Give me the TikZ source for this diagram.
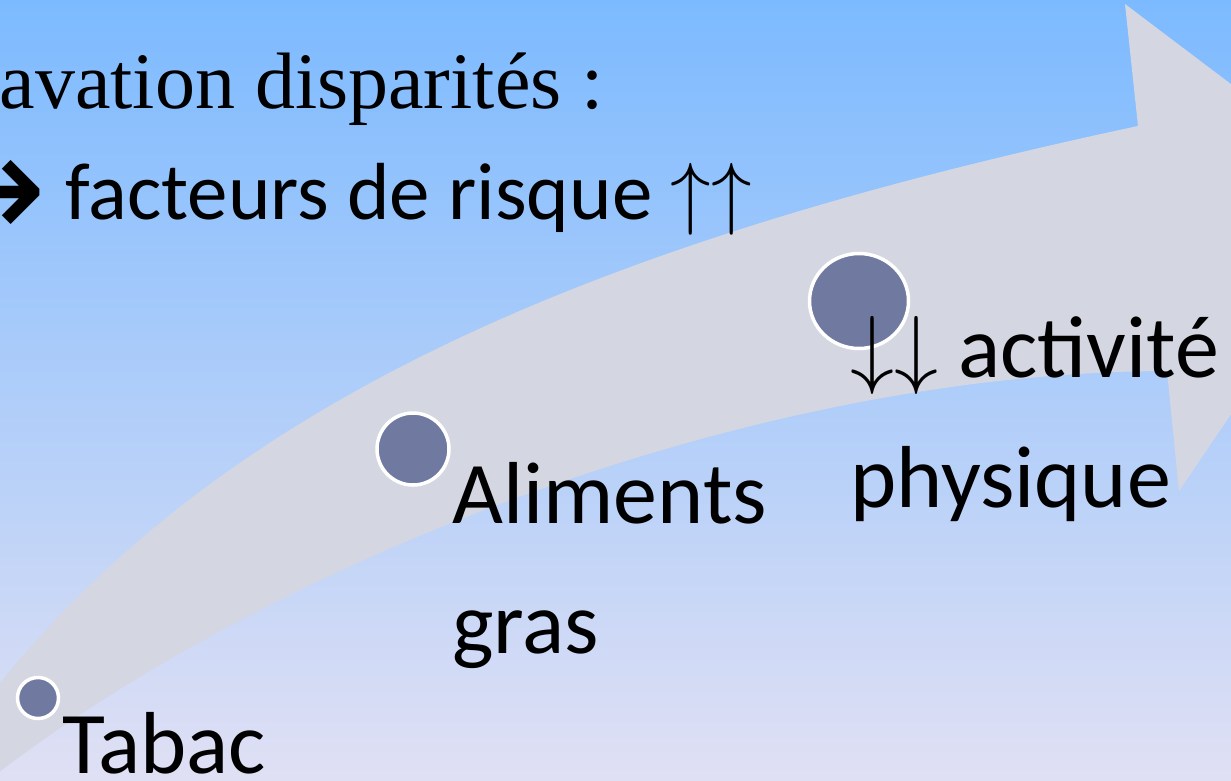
\documentclass[tikz,border=0pt]{standalone}
\usepackage{fontspec}
\setmainfont{Carlito}
\newfontfamily\serifface{Liberation Serif}
\newfontfamily\symface{DejaVu Sans}
\DeclareFontShape{OMS}{cmsy}{m}{n}{<->cmsy10}{}
\usepackage{tikz}
\usetikzlibrary{shapes.geometric}

\definecolor{bgtop}{RGB}{124,186,255}
\definecolor{bgbot}{RGB}{224,224,244}
\definecolor{arrowgray}{RGB}{212,215,225}
\definecolor{dotfill}{RGB}{112,122,160}

\begin{document}
\begin{tikzpicture}[x=1pt, y=-1pt,
  dot/.style={draw=white, line width=3.5pt, fill=dotfill, ellipse, inner sep=0pt},
  lbl/.style={font=\fontsize{88}{104}\selectfont, anchor=base west, inner sep=0pt},
  toptxt/.style={font=\fontsize{81}{96}\selectfont, inner sep=0pt}]
\useasboundingbox (0,0) rectangle (1231,780);
\clip (0,0) rectangle (1231,780);
\shade[top color=bgtop, bottom color=bgbot] (0,0) rectangle (1231,780);
% big curved arrow
\fill[arrowgray] (-30,722) .. controls (200,410) and (580,245) .. (1138,126)
  -- (1125,4) -- (1379,196) -- (1179,491) -- (1167,371)
  .. controls (740,372) and (245,572) .. (-30,795) -- cycle;
% heading lines
\node[toptxt, anchor=base east, font=\serifface\fontsize{80}{96}\selectfont] (head) at (604,108) {avation disparités :};
\node[toptxt, anchor=base west] (risk) at (-79,219)
  {\raisebox{-20pt}{\symface\fontsize{150}{150}\selectfont →} facteurs de risque $\uparrow\uparrow$};
% steps
\node[dot, minimum width=41pt, minimum height=41pt] (d1) at (38,698) {};
\node[dot, minimum width=72pt, minimum height=72pt] (d2) at (413,449) {};
\node[dot, minimum width=99pt, minimum height=95pt] (d3) at (859,301) {};
\node[lbl] (tabac) at (62,773) {Tabac};
\node[lbl] (alim) at (452,523) {Aliments};
\node[lbl] (gras) at ([yshift=-130pt]alim.base west) {gras};
\node[lbl] (activ) at (850,377) {$\downarrow\downarrow$ activité};
\node[lbl] (phys) at ([yshift=-130pt]activ.base west) {physique};
\end{tikzpicture}
\end{document}
